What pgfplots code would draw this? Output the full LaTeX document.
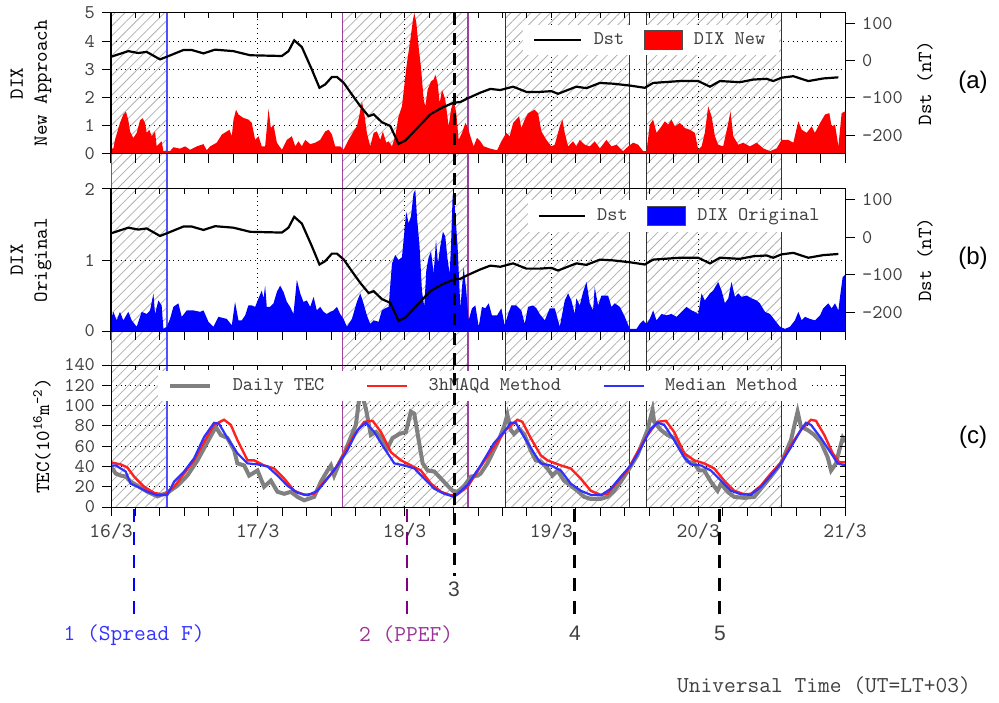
\documentclass[border=0pt]{standalone}
\usepackage{pgfplots}
\pgfplotsset{compat=1.18}
\usetikzlibrary{patterns.meta}
\usepackage{fontspec}
\renewcommand{\familydefault}{\ttdefault}
\newfontfamily\sansf{Liberation Sans}
\definecolor{txt}{HTML}{404040}
\definecolor{hatch}{HTML}{B0B0B0}
\definecolor{edgeblue}{HTML}{5050FF}
\definecolor{edgepurple}{HTML}{A040A0}
\definecolor{mkpurple}{HTML}{800080}
\definecolor{lblblue}{HTML}{3333FF}
\definecolor{lblpurple}{HTML}{993399}
\definecolor{tecgray}{HTML}{808080}
\definecolor{tecred}{HTML}{FF2020}
\definecolor{tecblue}{HTML}{3030FF}

\pgfplotsset{
  base/.style={
    scale only axis, width=367pt, xmin=0, xmax=5, anchor=south west,
    /pgf/number format/assume math mode=true,
    tick label style={text=txt, font=\ttfamily\fontsize{9.7}{11}\selectfont},
    label style={text=txt, font=\ttfamily\fontsize{9.7}{11.5}\selectfont},
    axis line style={line width=0.5pt},
    tick style={black, line width=0.5pt},
  },
  mainax/.style={base,
    tick align=outside, xtick pos=left, ytick pos=left,
    xtick={0,...,5}, minor x tick num=5,
    major tick length=4.5pt, minor tick length=4.5pt,
    xmajorgrids, major grid style={black, dotted, line width=0.5pt},
  },
  topticks/.style={base, tick align=inside, xtick pos=right, ytick=\empty,
    xtick={0,...,5}, minor x tick num=5, xticklabels={},
    major tick length=2.5pt, minor tick length=2.5pt},
  hatchreg/.style={draw=none, pattern={Lines[angle=45,distance=3.5pt,line width=0.4pt]}, pattern color=hatch},
  lineimg/.style={legend image code/.code={\draw[##1] (0pt,0pt) -- (#1,0pt);}},
  boximg/.style={legend image code/.code={\draw[##1] (0pt,-4.75pt) rectangle (19pt,4.75pt);}},
}

\begin{document}
\begin{tikzpicture}[font=\ttfamily]
\path[use as bounding box] (0,0) rectangle (499.5pt,351pt);

% ---------- background: hatched intervals and edges ----------
\begin{axis}[base, at={(55.5pt,97.5pt)}, height=247pt, ymin=13, ymax=507, y dir=reverse, hide axis, clip=false]
\addplot[hatchreg] coordinates {(0,13)(0.381,13)(0.381,507)(0,507)} -- cycle;
\addplot[hatchreg] coordinates {(1.576,13)(2.432,13)(2.432,507)(1.576,507)} -- cycle;
\addplot[hatchreg] coordinates {(2.684,13)(3.533,13)(3.533,507)(2.684,507)} -- cycle;
\addplot[hatchreg] coordinates {(3.647,13)(4.569,13)(4.569,507)(3.647,507)} -- cycle;
\addplot[edgeblue, line width=0.6pt] coordinates {(0.004,13)(0.004,507)};
\addplot[edgeblue, line width=0.6pt] coordinates {(0.381,13)(0.381,507)};
\addplot[edgepurple, line width=0.6pt] coordinates {(1.576,13)(1.576,507)};
\addplot[edgepurple, line width=0.6pt] coordinates {(2.432,13)(2.432,507)};
\addplot[black!80, line width=0.5pt] coordinates {(2.684,13)(2.684,507)};
\addplot[black!80, line width=0.5pt] coordinates {(3.533,13)(3.533,507)};
\addplot[black!80, line width=0.5pt] coordinates {(3.647,13)(3.647,507)};
\addplot[black!80, line width=0.5pt] coordinates {(4.569,13)(4.569,507)};
\end{axis}

% ---------- panel (a) ----------
\begin{axis}[mainax, at={(55.5pt,274pt)}, height=70.5pt, ymin=0, ymax=5, ytick={0,...,5}, ymajorgrids, xticklabels={},
  ylabel={DIX\\New Approach}, every axis y label/.style={at={(rel axis cs:-0.109,0.5)}, rotate=90, anchor=center, align=center}]
\addplot[draw=none, fill=red] coordinates {
(0.000,0.2)(0.016,0.2)(0.027,0.5)(0.061,1.1)(0.084,1.4)(0.102,1.5)(0.118,1.2)(0.130,0.8)(0.152,0.57)(0.175,0.75)
(0.198,1.2)(0.216,1.27)(0.232,1.1)(0.243,0.75)(0.261,0.86)(0.277,0.63)(0.300,0.8)(0.311,0.27)(0.334,0.4)(0.345,0.45)
(0.357,0.1)(0.380,0.1)(0.402,0.1)(0.425,0.24)(0.470,0.19)(0.505,0.27)(0.539,0.15)(0.584,0.27)(0.630,0.35)(0.652,0.13)
(0.675,0.27)(0.720,0.4)(0.755,0.69)(0.789,0.8)(0.807,0.86)(0.823,0.63)(0.834,1.2)(0.852,1.57)(0.868,1.4)(0.902,1.28)
(0.936,1.22)(0.959,1.1)(0.982,0.5)(1.005,0.63)(1.027,0.27)(1.050,0.27)(1.073,1.6)(1.089,0.92)(1.107,1.04)(1.130,0.4)
(1.164,0.15)(1.198,0.5)(1.232,0.63)(1.255,0.27)(1.277,0.45)(1.300,0.27)(1.323,0.5)(1.357,0.35)(1.391,0.4)(1.425,0.5)
(1.459,0.8)(1.482,0.86)(1.505,0.69)(1.527,0.27)(1.561,0.27)(1.584,0.15)(1.618,0.5)(1.652,0.8)(1.675,0.98)(1.693,1.4)
(1.709,1.87)(1.725,1.45)(1.743,0.75)(1.766,0.27)(1.789,0.75)(1.811,0.8)(1.834,0.5)(1.852,0.8)(1.875,0.4)(1.891,0.45)
(1.914,0.27)(1.936,0.63)(1.959,1.34)(1.982,1.69)(2.005,2.75)(2.016,3.23)(2.039,4.05)(2.057,4.76)(2.066,5.0)(2.080,4.65)
(2.095,3.82)(2.111,3.1)(2.130,1.93)(2.141,1.69)(2.157,2.28)(2.180,2.58)(2.198,2.64)(2.209,2.81)(2.225,2.52)(2.239,1.81)
(2.255,2.28)(2.277,1.93)(2.300,0.98)(2.316,1.57)(2.334,1.93)(2.352,1.45)(2.368,0.5)(2.391,0.75)(2.414,1.1)(2.432,0.92)
(2.448,0.63)(2.470,0.27)(2.493,0.57)(2.516,0.45)(2.539,0.27)(2.584,0.19)(2.630,0.13)(2.659,0.45)(2.693,0.75)(2.716,0.63)
(2.739,1.1)(2.780,1.34)(2.795,0.92)(2.818,1.22)(2.841,1.45)(2.864,1.51)(2.886,1.57)(2.909,1.45)(2.932,0.8)(2.966,0.5)
(3.000,0.27)(3.023,0.33)(3.057,0.98)(3.075,1.22)(3.091,0.75)(3.114,0.27)(3.148,0.45)(3.170,0.27)(3.193,0.5)(3.227,0.33)
(3.261,0.27)(3.295,0.45)(3.330,0.2)(3.375,0.5)(3.409,0.27)(3.443,0.33)(3.489,0.1)(3.523,0.27)(3.557,0.4)(3.591,0.33)
(3.625,0.1)(3.648,0.1)(3.670,1.04)(3.693,1.22)(3.716,0.75)(3.750,0.98)(3.773,1.16)(3.795,1.04)(3.818,1.22)(3.841,0.98)
(3.875,1.1)(3.909,0.92)(3.943,0.86)(3.977,0.75)(4.000,0.15)(4.023,0.27)(4.045,0.75)(4.068,1.69)(4.091,1.34)(4.114,0.63)
(4.136,0.33)(4.170,0.27)(4.205,1.1)(4.220,1.51)(4.239,0.63)(4.273,0.33)(4.307,0.4)(4.352,0.27)(4.398,0.4)(4.443,0.2)
(4.489,0.1)(4.534,0.2)(4.568,0.5)(4.614,0.5)(4.648,0.4)(4.682,1.16)(4.705,0.86)(4.739,0.75)(4.773,0.98)(4.795,0.75)
(4.830,1.1)(4.864,1.4)(4.893,1.45)(4.909,0.98)(4.932,1.04)(4.955,0.27)(4.977,1.45)(5.000,1.51)} \closedcycle;
\end{axis}
\begin{axis}[topticks, at={(55.5pt,274pt)}, height=70.5pt, ymin=0, ymax=1]
\end{axis}
\begin{axis}[base, at={(55.5pt,274pt)}, height=70.5pt, ymin=-250, ymax=127, ytick={-200,-100,0,100},
  axis y line*=right, axis x line=none, tick align=outside, major tick length=5pt,
  ylabel={Dst (nT)}, every axis y label/.style={at={(rel axis cs:1.109,0.5)}, rotate=90, anchor=center},
  legend columns=2, legend cell align=left,
  legend style={at={(rel axis cs:0.561,0.809)}, anchor=west, draw=none, fill=white, inner xsep=5pt, inner ysep=2pt,
    font=\ttfamily\fontsize{9.7}{11}\selectfont, text=txt,
    /tikz/every odd column/.append style={column sep=3.7pt},
    /tikz/every even column/.append style={column sep=7.7pt}}]
\addplot[black, line width=1.1pt, lineimg=23.5pt] coordinates {
(0.000,10)(0.118,25)(0.186,20)(0.243,23)(0.334,3)(0.380,10)(0.493,28)(0.550,28)(0.630,19)(0.709,29)(0.834,25)(0.948,14)
(1.057,13)(1.164,12)(1.209,25)(1.248,54)(1.300,36)(1.368,-24)(1.420,-73)(1.459,-64)(1.505,-44)(1.539,-44)(1.586,-60)
(1.641,-91)(1.698,-122)(1.755,-149)(1.789,-144)(1.845,-165)(1.902,-175)(1.959,-223)(2.005,-214)(2.061,-191)(2.175,-144)
(2.255,-126)(2.334,-113)(2.380,-111)(2.425,-102)(2.516,-86)(2.584,-76)(2.652,-79)(2.739,-70)(2.830,-84)(2.920,-84)
(3.000,-82)(3.045,-89)(3.170,-70)(3.239,-74)(3.330,-60)(3.420,-62)(3.534,-67)(3.636,-73)(3.693,-60)(3.875,-55)(4.000,-55)
(4.080,-70)(4.148,-55)(4.284,-58)(4.375,-51)(4.466,-49)(4.511,-55)(4.568,-46)(4.648,-42)(4.750,-55)(4.852,-48)(4.955,-45)};
\addlegendentry{Dst}
\addlegendimage{fill=red, draw=black!70, line width=0.4pt, boximg}
\addlegendentry{DIX New}
\end{axis}

% ---------- panel (b) ----------
\begin{axis}[mainax, at={(55.5pt,185.5pt)}, height=71pt, ymin=0, ymax=2, ytick={0,1,2}, ymajorgrids, xticklabels={},
  ylabel={DIX\\Original}, every axis y label/.style={at={(rel axis cs:-0.109,0.5)}, rotate=90, anchor=center, align=center}]
\addplot[draw=none, fill=blue] coordinates {
(0.000,0.17)(0.016,0.27)(0.039,0.15)(0.061,0.27)(0.084,0.15)(0.118,0.27)(0.141,0.15)(0.175,0.06)(0.209,0.27)(0.243,0.24)
(0.266,0.29)(0.289,0.53)(0.300,0.24)(0.323,0.43)(0.345,0.36)(0.357,0.03)(0.380,0.06)(0.402,0.17)(0.425,0.34)(0.459,0.39)
(0.482,0.2)(0.516,0.29)(0.561,0.29)(0.607,0.27)(0.630,0.29)(0.664,0.13)(0.698,0.06)(0.732,0.2)(0.789,0.17)(0.823,0.08)
(0.845,0.41)(0.868,0.15)(0.891,0.15)(0.914,0.22)(0.936,0.36)(0.959,0.36)(0.982,0.34)(1.005,0.46)(1.027,0.57)(1.039,0.46)
(1.050,0.64)(1.061,0.34)(1.084,0.34)(1.107,0.39)(1.130,0.55)(1.152,0.64)(1.175,0.55)(1.198,0.41)(1.220,0.34)(1.243,0.24)
(1.266,0.72)(1.289,0.53)(1.311,0.41)(1.334,0.43)(1.357,0.34)(1.380,0.48)(1.402,0.29)(1.425,0.34)(1.448,0.27)(1.470,0.24)
(1.493,0.27)(1.516,0.29)(1.539,0.34)(1.561,0.24)(1.584,0.17)(1.607,0.06)(1.641,0.17)(1.675,0.41)(1.698,0.53)(1.720,0.39)
(1.743,0.22)(1.766,0.1)(1.789,0.15)(1.823,0.13)(1.845,0.29)(1.868,0.32)(1.891,0.34)(1.914,0.95)(1.936,1.07)(1.959,1.0)
(1.982,1.04)(1.993,1.28)(2.011,1.68)(2.027,1.52)(2.043,1.61)(2.061,1.94)(2.073,1.99)(2.084,1.61)(2.102,1.19)(2.118,0.57)
(2.134,0.34)(2.148,0.86)(2.164,1.04)(2.180,1.12)(2.198,0.81)(2.214,1.28)(2.227,0.95)(2.243,1.19)(2.261,1.4)(2.277,1.33)
(2.293,1.0)(2.307,0.81)(2.316,1.19)(2.327,1.89)(2.334,1.99)(2.345,1.66)(2.361,1.19)(2.380,0.32)(2.402,0.9)(2.420,0.57)
(2.436,0.15)(2.459,0.32)(2.482,0.36)(2.505,0.06)(2.527,0.34)(2.550,0.32)(2.573,0.39)(2.595,0.22)(2.630,0.22)(2.659,0.32)
(2.682,0.08)(2.705,0.24)(2.727,0.36)(2.761,0.36)(2.795,0.29)(2.818,0.1)(2.841,0.34)(2.875,0.36)(2.898,0.32)(2.920,0.24)
(2.955,0.15)(2.989,0.32)(3.023,0.32)(3.057,0.06)(3.091,0.43)(3.114,0.53)(3.136,0.43)(3.159,0.24)(3.170,0.46)(3.193,0.36)
(3.216,0.55)(3.239,0.69)(3.261,0.39)(3.284,0.29)(3.295,0.62)(3.318,0.36)(3.341,0.5)(3.386,0.5)(3.409,0.34)(3.432,0.39)
(3.466,0.34)(3.500,0.2)(3.534,0.03)(3.580,0.03)(3.602,0.1)(3.625,0.15)(3.648,0.1)(3.670,0.17)(3.693,0.29)(3.716,0.15)
(3.750,0.24)(3.784,0.22)(3.818,0.24)(3.852,0.2)(3.886,0.27)(3.920,0.34)(3.955,0.29)(3.977,0.27)(4.000,0.24)(4.023,0.53)
(4.045,0.43)(4.080,0.53)(4.102,0.57)(4.136,0.69)(4.159,0.57)(4.182,0.39)(4.205,0.46)(4.227,0.69)(4.250,0.48)(4.273,0.53)
(4.295,0.48)(4.330,0.5)(4.364,0.46)(4.398,0.43)(4.420,0.39)(4.455,0.27)(4.489,0.24)(4.523,0.15)(4.557,0.06)(4.591,0.03)
(4.625,0.06)(4.659,0.15)(4.682,0.27)(4.705,0.15)(4.727,0.2)(4.761,0.17)(4.795,0.15)(4.830,0.22)(4.852,0.32)(4.886,0.39)
(4.909,0.32)(4.932,0.39)(4.955,0.29)(4.966,0.48)(4.984,0.76)(5.000,0.79)} \closedcycle;
\end{axis}
\begin{axis}[topticks, at={(55.5pt,185.5pt)}, height=71pt, ymin=0, ymax=1]
\end{axis}
\begin{axis}[base, at={(55.5pt,185.5pt)}, height=71pt, ymin=-250, ymax=128, ytick={-200,-100,0,100},
  axis y line*=right, axis x line=none, tick align=outside, major tick length=5pt,
  ylabel={Dst (nT)}, every axis y label/.style={at={(rel axis cs:1.109,0.5)}, rotate=90, anchor=center},
  legend columns=2, legend cell align=left,
  legend style={at={(rel axis cs:0.567,0.81)}, anchor=west, draw=none, fill=white, inner xsep=5pt, inner ysep=2pt,
    font=\ttfamily\fontsize{9.7}{11}\selectfont, text=txt,
    /tikz/every odd column/.append style={column sep=3.7pt},
    /tikz/every even column/.append style={column sep=7.7pt}}]
\addplot[black, line width=1.1pt, lineimg=23pt] coordinates {
(0.000,10)(0.118,25)(0.186,20)(0.243,23)(0.334,3)(0.380,10)(0.493,28)(0.550,28)(0.630,19)(0.709,29)(0.834,25)(0.948,14)
(1.057,13)(1.164,12)(1.209,25)(1.248,54)(1.300,36)(1.368,-24)(1.420,-73)(1.459,-64)(1.505,-44)(1.539,-44)(1.586,-60)
(1.641,-91)(1.698,-122)(1.755,-149)(1.789,-144)(1.845,-165)(1.902,-175)(1.959,-223)(2.005,-214)(2.061,-191)(2.175,-144)
(2.255,-126)(2.334,-113)(2.380,-111)(2.425,-102)(2.516,-86)(2.584,-76)(2.652,-79)(2.739,-70)(2.830,-84)(2.920,-84)
(3.000,-82)(3.045,-89)(3.170,-70)(3.239,-74)(3.330,-60)(3.420,-62)(3.534,-67)(3.636,-73)(3.693,-60)(3.875,-55)(4.000,-55)
(4.080,-70)(4.148,-55)(4.284,-58)(4.375,-51)(4.466,-49)(4.511,-55)(4.568,-46)(4.648,-42)(4.750,-55)(4.852,-48)(4.955,-45)};
\addlegendentry{Dst}
\addlegendimage{fill=blue, draw=black!70, line width=0.4pt, boximg}
\addlegendentry{DIX Original}
\end{axis}

% ---------- panel (c) ----------
\begin{axis}[mainax, at={(55.5pt,97.5pt)}, height=71pt, ymin=0, ymax=140, ytick={0,20,...,140}, ymajorgrids,
  xticklabels={16/3,17/3,18/3,19/3,20/3,21/3},
  xticklabel style={font=\ttfamily\fontsize{10.3}{11}\selectfont},
  ylabel={TEC(10\textsuperscript{16}m\textsuperscript{-2})}, every axis y label/.style={at={(rel axis cs:-0.094,0.5)}, rotate=90, anchor=center},
  legend columns=3, legend cell align=left,
  legend style={at={(rel axis cs:0.064,0.852)}, anchor=west, draw=none, fill=white, inner xsep=5pt, inner ysep=1.5pt,
    font=\ttfamily\fontsize{9.7}{11}\selectfont, text=txt,
    /tikz/every odd column/.append style={column sep=8.2pt},
    /tikz/every even column/.append style={column sep=18.7pt}}]
\addplot[tecgray, line width=2pt, lineimg=20pt] coordinates {
(0.000,40)(0.032,33)(0.066,31)(0.100,30)(0.134,25)(0.180,21)(0.248,15)(0.316,10.5)(0.384,14)(0.452,21)(0.520,31)(0.589,46)
(0.657,64)(0.714,79)(0.748,71)(0.793,68)(0.839,56)(0.861,43)(0.907,41)(0.941,31)(0.998,36)(1.043,20)(1.089,26)(1.134,15)
(1.180,13)(1.225,15)(1.270,10)(1.316,6.6)(1.384,10)(1.430,25)(1.475,36)(1.498,41)(1.520,31)(1.555,43)(1.589,53)(1.634,69)
(1.668,81)(1.691,107)(1.714,109)(1.736,97)(1.770,71)(1.805,74)(1.839,69)(1.884,58)(1.918,68)(1.964,72)(2.009,74)(2.043,94)
(2.066,92)(2.089,72)(2.123,43)(2.157,36)(2.202,35)(2.248,28)(2.293,21)(2.327,16)(2.361,15)(2.407,21)(2.452,30)(2.498,31)
(2.518,33)(2.564,43)(2.632,63)(2.677,79)(2.700,91)(2.723,76)(2.745,72)(2.780,77)(2.814,72)(2.859,56)(2.893,46)(2.927,45)
(2.973,38)(3.007,31)(3.041,36)(3.086,26)(3.132,21)(3.177,16)(3.223,10)(3.268,8)(3.336,8)(3.382,10)(3.427,16)(3.473,25)
(3.518,35)(3.586,51)(3.655,76)(3.689,96)(3.700,84)(3.745,76)(3.791,71)(3.836,68)(3.882,56)(3.927,45)(3.973,43)(4.007,36)
(4.041,36)(4.086,25)(4.132,16)(4.155,23)(4.200,15)(4.245,10)(4.314,9)(4.382,10)(4.427,18)(4.495,30)(4.564,43)(4.632,66)
(4.677,94)(4.700,79)(4.745,76)(4.791,71)(4.836,64)(4.882,49)(4.905,36)(4.939,43)(4.961,56)(4.984,68)(5.000,64)};
\addlegendentry{Daily TEC}
\addplot[tecred, line width=1.2pt, lineimg=20pt] coordinates {
(0.000,44)(0.066,42)(0.111,39)(0.157,30)(0.225,20)(0.293,14)(0.361,12)(0.430,20)(0.498,33)(0.566,46)(0.634,64)(0.702,81)
(0.770,86)(0.816,81)(0.861,66)(0.930,46)(0.975,46)(1.043,41)(1.111,38)(1.180,28)(1.248,16)(1.316,12)(1.384,13)(1.452,25)
(1.520,36)(1.589,53)(1.657,71)(1.725,84)(1.782,85)(1.839,74)(1.907,54)(1.975,46)(2.043,41)(2.111,36)(2.180,23)(2.248,15)
(2.316,11.5)(2.361,12.5)(2.430,20)(2.518,40)(2.609,59)(2.689,76)(2.768,86)(2.802,84)(2.859,68)(2.927,51)(2.973,46)(3.064,41)
(3.132,38)(3.200,28)(3.268,16)(3.336,12)(3.382,13)(3.450,25)(3.518,36)(3.586,54)(3.655,71)(3.723,84)(3.780,85)(3.836,74)
(3.905,53)(3.973,46)(4.041,43)(4.109,38)(4.177,26)(4.245,16)(4.314,12.5)(4.359,13)(4.427,21)(4.495,33)(4.564,44)(4.632,61)
(4.700,76)(4.768,86)(4.802,85)(4.859,71)(4.916,53)(4.961,44)(5.000,44)};
\addlegendentry{3hMAQd Method}
\addplot[tecblue, line width=1.1pt, lineimg=20pt] coordinates {
(0.000,41)(0.032,41)(0.066,38)(0.100,35)(0.134,23)(0.180,20)(0.248,15)(0.316,11.5)(0.384,12)(0.430,25)(0.498,35)(0.566,48)
(0.634,69)(0.702,83)(0.736,82)(0.793,68)(0.861,53)(0.930,43)(0.998,42)(1.066,40)(1.134,31)(1.202,21)(1.270,14)(1.339,11.5)
(1.407,16)(1.475,28)(1.543,41)(1.611,56)(1.680,76)(1.736,83)(1.793,74)(1.861,58)(1.930,43)(1.998,41)(2.066,38)(2.134,28)
(2.202,18)(2.270,13)(2.339,10)(2.430,22)(2.518,41)(2.609,63)(2.689,76)(2.723,83)(2.757,83)(2.814,69)(2.882,53)(2.927,43)
(2.995,41)(3.064,36)(3.132,23)(3.200,16)(3.268,12)(3.336,11.5)(3.405,18)(3.473,30)(3.541,41)(3.609,58)(3.677,77)(3.723,83)
(3.768,81)(3.836,66)(3.905,49)(3.950,42)(4.018,41)(4.086,36)(4.155,26)(4.223,16)(4.291,12.5)(4.359,12)(4.427,20)(4.495,31)
(4.564,43)(4.632,59)(4.700,76)(4.734,83)(4.768,81)(4.836,68)(4.905,53)(4.950,43)(5.000,41)};
\addlegendentry{Median Method}
\end{axis}
\begin{axis}[base, at={(55.5pt,97.5pt)}, height=71pt, ymin=0, ymax=140, tick align=inside, xtick pos=right, ytick pos=right,
  xtick={0,...,5}, minor x tick num=5, xticklabels={}, ytick={0,10,...,140}, yticklabels={},
  major tick length=2.5pt, minor tick length=2.5pt]
\end{axis}

% ---------- foreground: event markers and texts ----------
\begin{axis}[base, at={(55.5pt,97.5pt)}, height=247pt, ymin=13, ymax=507, y dir=reverse, hide axis, clip=false]
\addplot[black, line width=1.5pt, dash pattern=on 6pt off 4pt] coordinates {(2.337,13)(2.337,576)};
\addplot[blue, line width=1.3pt, dash pattern=on 6.5pt off 5pt] coordinates {(0.157,509)(0.157,615)};
\addplot[mkpurple, line width=1.3pt, dash pattern=on 6.5pt off 5pt] coordinates {(2.016,509)(2.016,615)};
\addplot[black, line width=1.3pt, dash pattern=on 6.5pt off 5pt] coordinates {(3.157,509)(3.157,615)};
\addplot[black, line width=1.3pt, dash pattern=on 6.5pt off 5pt] coordinates {(4.145,509)(4.145,615)};
\node[text=lblblue, font=\ttfamily\fontsize{11.4}{13}\selectfont] at (axis cs:0.157,635) {1 (Spread F)};
\node[text=lblpurple, font=\ttfamily\fontsize{11.4}{13}\selectfont] at (axis cs:2.010,635) {2 (PPEF)};
\node[text=txt, font=\sansf\fontsize{10.5}{12}\selectfont] at (axis cs:2.337,589) {3};
\node[text=txt, font=\sansf\fontsize{10.5}{12}\selectfont] at (axis cs:3.160,633) {4};
\node[text=txt, font=\sansf\fontsize{10.5}{12}\selectfont] at (axis cs:4.148,633) {5};
\node[text=txt, font=\ttfamily\fontsize{11.4}{13}\selectfont] at (axis cs:4.857,686) {Universal Time (UT=LT+03)};
\node[font=\sansf\fontsize{12}{14}\selectfont] at (axis cs:5.872,82) {(a)};
\node[font=\sansf\fontsize{12}{14}\selectfont] at (axis cs:5.872,258) {(b)};
\node[font=\sansf\fontsize{12}{14}\selectfont] at (axis cs:5.872,437) {(c)};
\end{axis}
\end{tikzpicture}
\end{document}
